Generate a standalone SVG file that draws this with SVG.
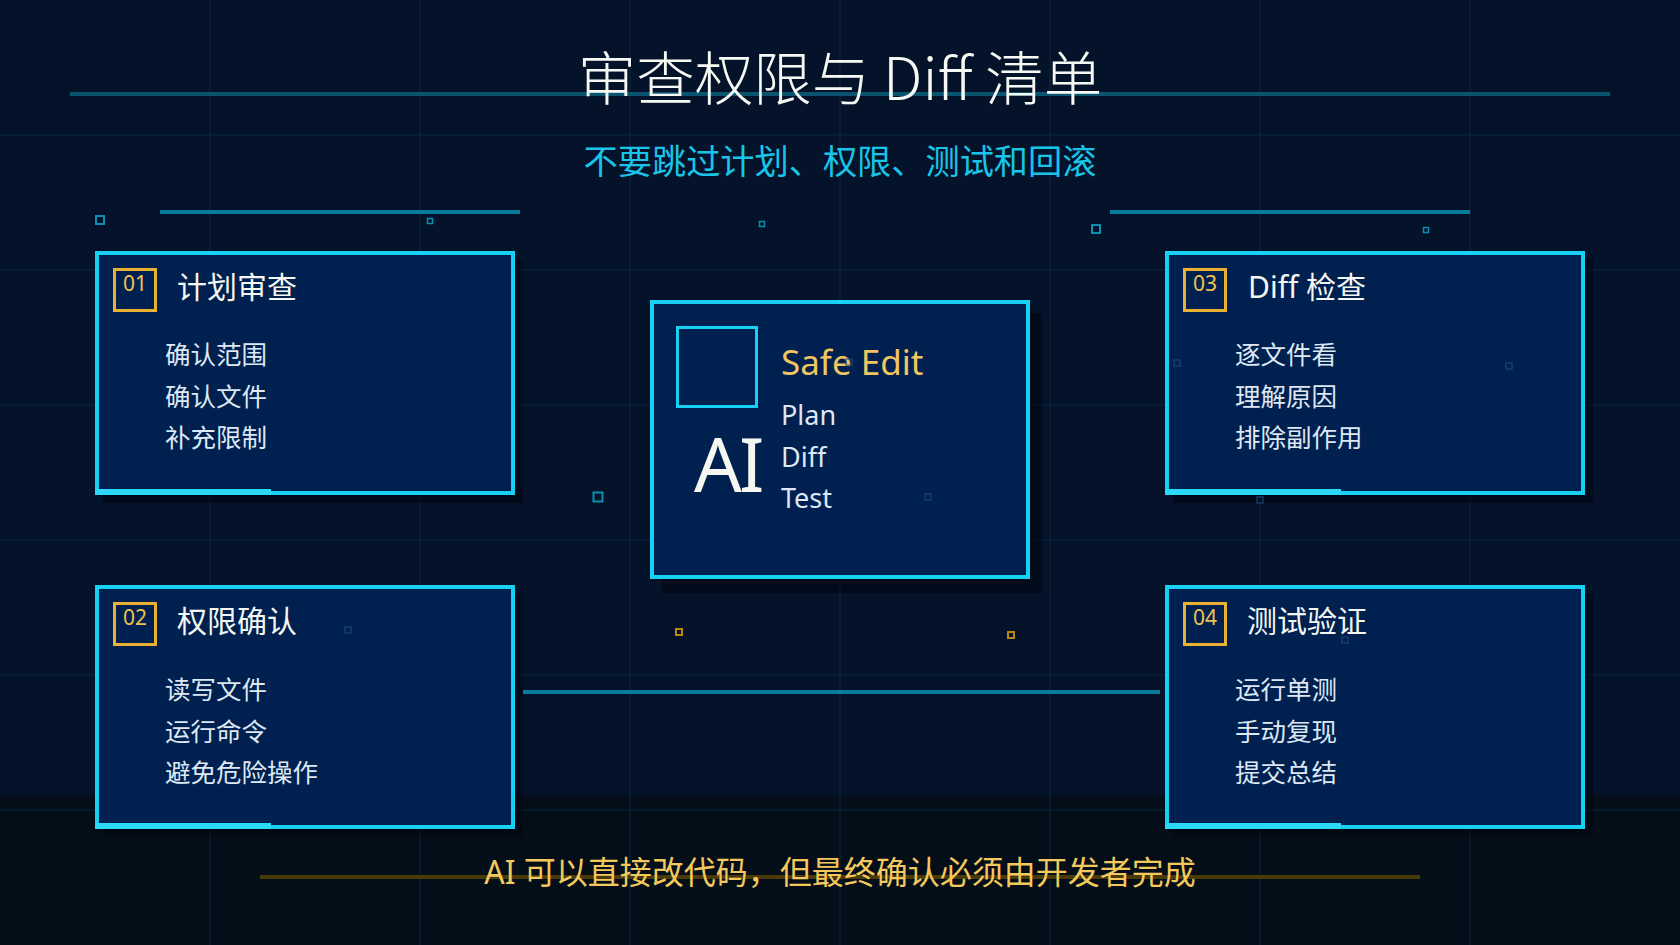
<svg xmlns="http://www.w3.org/2000/svg" width="1680" height="945" viewBox="0 0 1680 945">
<style>
.grid line{stroke:#092840;stroke-width:1}
.card-bg{fill:#00204f;stroke:#17d0f2;stroke-width:4}
.shadow{fill:#01060e;opacity:.55}
.accent{fill:#2ad9f8}
.numbox{fill:none;stroke:#e9b233;stroke-width:3}
.num{font-family:"Noto Sans","Noto Sans CJK SC",sans-serif;font-size:21px;fill:#f0c250;text-anchor:middle}
.ctitle{font-family:"Noto Sans","Noto Sans CJK SC",sans-serif;font-size:30px;fill:#f4f6f2}
.item{font-family:"Noto Sans CJK SC","Noto Sans",sans-serif;font-size:25.5px;fill:#dde8f4}
.lat{font-family:"Noto Sans","Noto Sans CJK SC",sans-serif}
.sq{fill:none;stroke:#0a8fb0;stroke-width:2}
.sqs{fill:none;stroke:#0a8fb0;stroke-width:1.5}
.sqo{fill:none;stroke:#b8860b;stroke-width:2}
.sqf{fill:none;stroke:#244a78;stroke-width:1.5;opacity:.7}
</style>
<rect x="0" y="0" width="1680" height="945" fill="#04132a"/>
<rect x="0" y="795" width="1680" height="150" fill="#030e19"/>
<g class="grid">
<line x1="210" y1="0" x2="210" y2="945"/><line x1="420" y1="0" x2="420" y2="945"/><line x1="630" y1="0" x2="630" y2="945"/><line x1="840" y1="0" x2="840" y2="945"/><line x1="1050" y1="0" x2="1050" y2="945"/><line x1="1260" y1="0" x2="1260" y2="945"/><line x1="1470" y1="0" x2="1470" y2="945"/>
<line x1="0" y1="135" x2="1680" y2="135"/><line x1="0" y1="270" x2="1680" y2="270"/><line x1="0" y1="405" x2="1680" y2="405"/><line x1="0" y1="540" x2="1680" y2="540"/><line x1="0" y1="675" x2="1680" y2="675"/><line x1="0" y1="810" x2="1680" y2="810"/>
</g>
<g id="decor">
<line x1="70" y1="94" x2="1610" y2="94" stroke="#0b5470" stroke-width="4"/>
<line x1="160" y1="212" x2="520" y2="212" stroke="#0a7b9a" stroke-width="4"/>
<line x1="1110" y1="212" x2="1470" y2="212" stroke="#0a7b9a" stroke-width="4"/>
<line x1="260" y1="877" x2="1420" y2="877" stroke="#4a3a08" stroke-width="4"/>
<rect class="sq" x="96" y="216" width="8" height="8"/>
<rect class="sqs" x="427.5" y="218.5" width="5" height="5"/>
<rect class="sqs" x="759.5" y="221.5" width="5" height="5"/>
<rect class="sq" x="1092" y="225" width="8" height="8"/>
<rect class="sqs" x="1423.5" y="227.5" width="5" height="5"/>
<rect class="sq" x="593.5" y="492.5" width="9" height="9"/>
<rect class="sqo" x="676" y="629" width="6" height="6"/>
<rect class="sqo" x="1008" y="632" width="6" height="6"/>
</g>
<text x="840" y="100" text-anchor="middle" font-family="Noto Sans CJK SC, Noto Sans, sans-serif" font-size="58.5" font-weight="300" fill="#f6f8f3">审查权限与 Diff 清单</text>
<text x="840" y="174" text-anchor="middle" font-family="Noto Sans CJK SC, Noto Sans, sans-serif" font-size="34.2" fill="#1ac4e8">不要跳过计划、权限、测试和回滚</text>
<g id="connectors">
<line x1="523" y1="692" x2="1160" y2="692" stroke="#0a7b9a" stroke-width="4"/>
</g>
<g id="card-01" transform="translate(95,251)">
<rect class="shadow" x="8" y="8" width="420" height="244"/>
<rect class="card-bg" x="2" y="2" width="416" height="240"/>
<rect class="accent" x="0" y="238" width="176" height="6"/>
<rect class="numbox" x="19.5" y="18.5" width="41" height="41"/>
<text class="num" x="40" y="40">01</text>
<text class="ctitle" x="82" y="47">计划审查</text>
<text class="item" x="70" y="113">确认范围</text>
<text class="item" x="70" y="155">确认文件</text>
<text class="item" x="70" y="196">补充限制</text>
</g>
<g id="card-02" transform="translate(95,585)">
<rect class="shadow" x="8" y="8" width="420" height="244"/>
<rect class="card-bg" x="2" y="2" width="416" height="240"/>
<rect class="accent" x="0" y="238" width="176" height="6"/>
<rect class="numbox" x="19.5" y="18.5" width="41" height="41"/>
<text class="num" x="40" y="40">02</text>
<text class="ctitle" x="82" y="47">权限确认</text>
<text class="item" x="70" y="114">读写文件</text>
<text class="item" x="70" y="156">运行命令</text>
<text class="item" x="70" y="197">避免危险操作</text>
</g>
<g id="card-03" transform="translate(1165,251)">
<rect class="shadow" x="8" y="8" width="420" height="244"/>
<rect class="card-bg" x="2" y="2" width="416" height="240"/>
<rect class="accent" x="0" y="238" width="176" height="6"/>
<rect class="numbox" x="19.5" y="18.5" width="41" height="41"/>
<text class="num" x="40" y="40">03</text>
<text class="ctitle" x="83" y="47">Diff 检查</text>
<text class="item" x="70" y="113">逐文件看</text>
<text class="item" x="70" y="155">理解原因</text>
<text class="item" x="70" y="196">排除副作用</text>
</g>
<g id="card-04" transform="translate(1165,585)">
<rect class="shadow" x="8" y="8" width="420" height="244"/>
<rect class="card-bg" x="2" y="2" width="416" height="240"/>
<rect class="accent" x="0" y="238" width="176" height="6"/>
<rect class="numbox" x="19.5" y="18.5" width="41" height="41"/>
<text class="num" x="40" y="40">04</text>
<text class="ctitle" x="82" y="47">测试验证</text>
<text class="item" x="70" y="114">运行单测</text>
<text class="item" x="70" y="156">手动复现</text>
<text class="item" x="70" y="197">提交总结</text>
</g>
<g id="center-card">
<rect class="shadow" x="662" y="313" width="380" height="280" opacity=".8"/>
<rect class="card-bg" x="652" y="302" width="376" height="275"/>
<rect x="677.5" y="327.5" width="79" height="79" fill="none" stroke="#17d0f2" stroke-width="3"/>
<text class="lat" x="694" y="492" font-size="75" letter-spacing="-3" fill="#f5f7f0">AI</text>
<text class="lat" x="781" y="375" font-size="35" fill="#f2c462">Safe Edit</text>
<text class="lat" x="781" y="425" font-size="27" fill="#dde8f4">Plan</text>
<text class="lat" x="781" y="467" font-size="27" fill="#dde8f4">Diff</text>
<text class="lat" x="781" y="508" font-size="27" fill="#dde8f4">Test</text>
</g>
<g id="faint">
<rect class="sqf" x="1174" y="360" width="6" height="6"/>
<rect class="sqf" x="1506" y="363" width="6" height="6"/>
<rect class="sqf" x="1257" y="497" width="6" height="6"/>
<rect class="sqf" x="345" y="627" width="6" height="6"/>
<rect class="sqf" x="1342" y="637" width="6" height="6"/>
<rect class="sqf" x="925" y="494" width="6" height="6"/>
<rect class="sqf" x="846" y="359" width="6" height="6"/>
</g>
<text x="840" y="884" text-anchor="middle" font-family="Noto Sans, Noto Sans CJK SC, sans-serif" font-size="32" fill="#f3c85c">AI 可以直接改代码，但最终确认必须由开发者完成</text>
</svg>
